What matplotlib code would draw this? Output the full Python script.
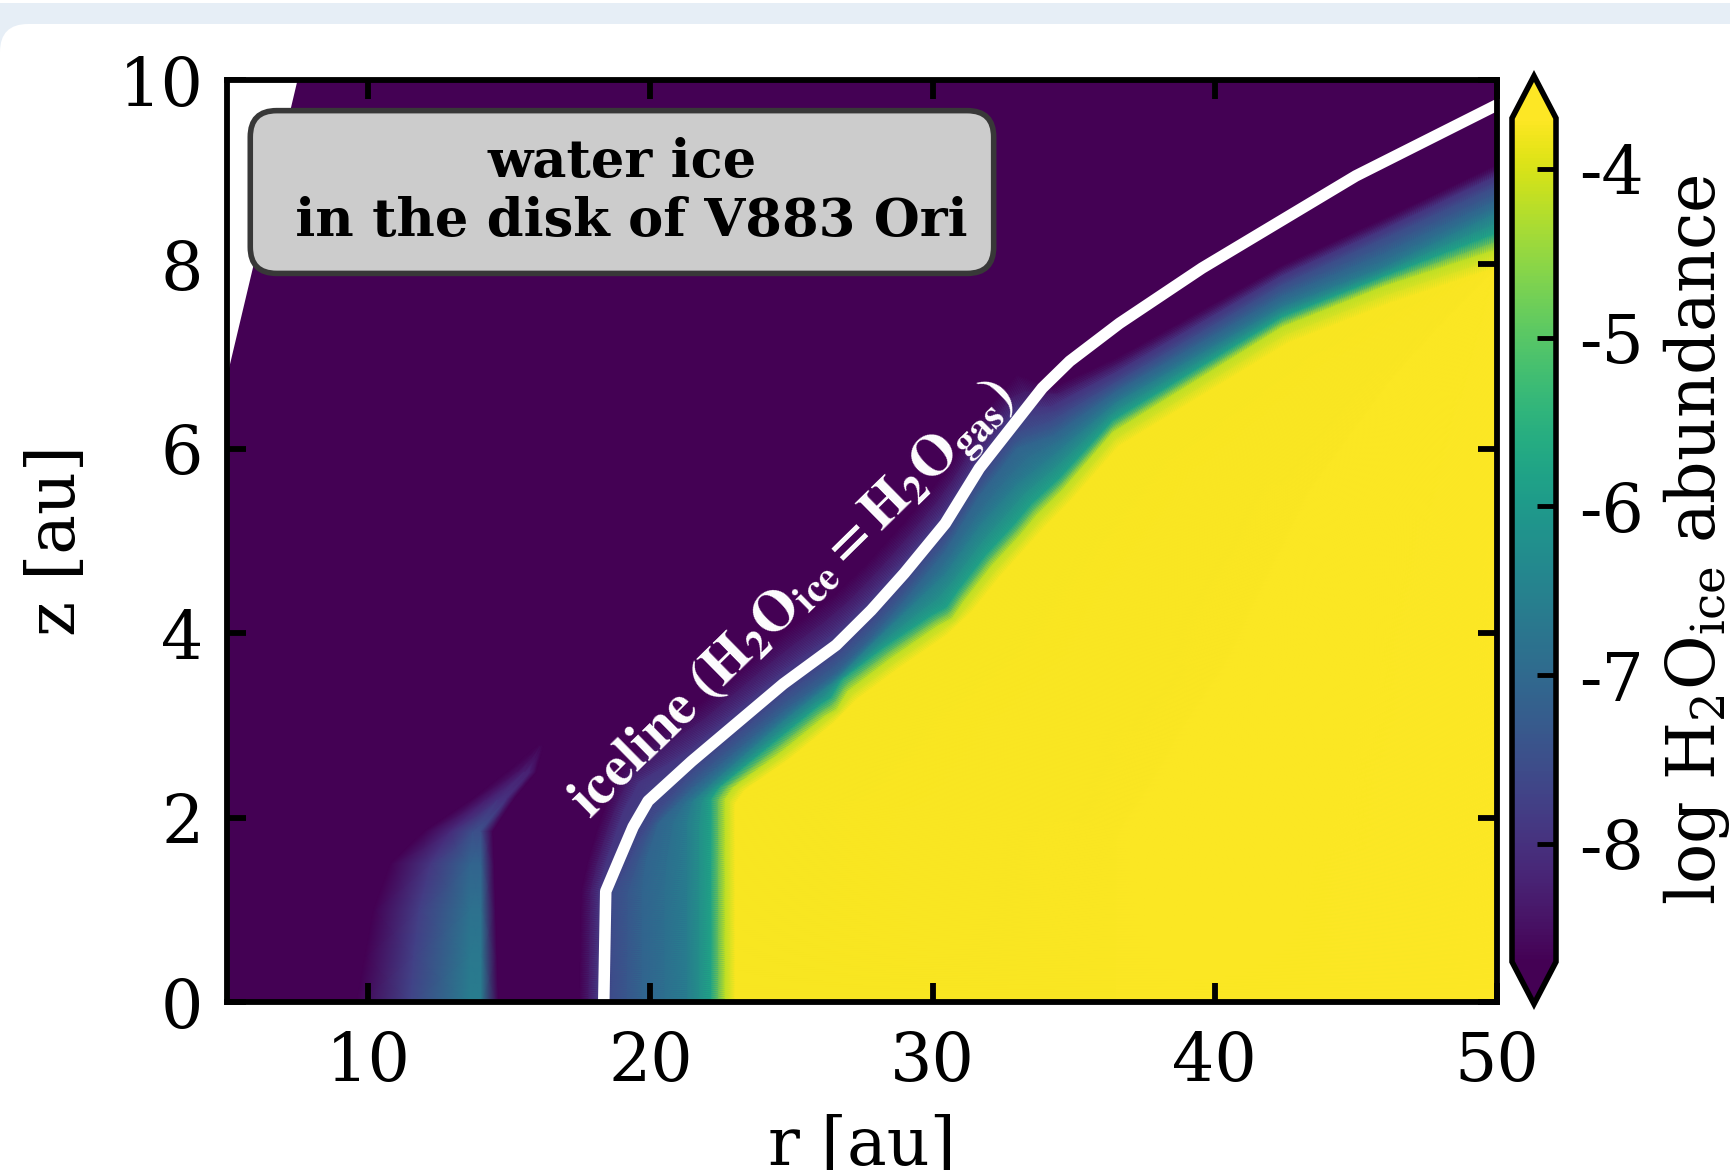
import numpy as np
import matplotlib
matplotlib.use("Agg")
import matplotlib.pyplot as plt
from matplotlib.patches import FancyBboxPatch, Rectangle
from matplotlib.transforms import IdentityTransform
from matplotlib.colors import Normalize

plt.rcParams['font.family'] = ['DejaVu Serif']
plt.rcParams['mathtext.fontset'] = 'dejavuserif'
plt.rcParams['axes.unicode_minus'] = False

# ---------------- data ----------------
vmin, vmax = -8.7, -3.7
cbar_ticks = [-8, -7, -6, -5, -4]
x_ticks = [10, 20, 30, 40, 50]
y_ticks = [0, 2, 4, 6, 8, 10]

# iceline (H2O_ice = H2O_gas)
ice_r = [18.35, 18.42, 18.64, 18.93, 19.39, 19.92, 21.46, 24.71, 26.58, 27.83,
         29.00, 30.45, 31.66, 33.89, 34.86, 36.62, 39.55, 45.00, 50.00]
ice_z = [0.00, 1.20, 1.36, 1.57, 1.90, 2.18, 2.61, 3.45, 3.87, 4.25,
         4.65, 5.19, 5.79, 6.66, 6.95, 7.36, 7.96, 8.96, 9.73]

# iso-abundance contours of log H2O_ice, (r, z)
band_levels = [-8.7, -7.95, -7.55, -7.1, -6.6, -5.8, -4.2, -3.75]
c0_r = [17.50, 17.57, 17.80, 18.12, 18.50, 18.95, 20.10, 21.46, 24.71, 26.58, 27.83, 29.00, 30.45, 31.66, 33.00, 34.20, 36.50, 42.40, 46.00, 50.00]
c0_z = [0.00, 1.20, 1.52, 1.86, 2.20, 2.55, 2.92, 3.16, 4.00, 4.42, 4.80, 5.20, 5.74, 6.34, 6.80, 6.66, 6.98, 7.99, 8.50, 9.08]
ch_r = [18.10, 18.17, 18.38, 18.65, 19.05, 19.60, 21.46, 24.71, 26.58, 27.83, 29.00, 30.45, 31.66, 33.00, 34.20, 36.50, 42.40, 46.00, 50.00]
ch_z = [0.00, 1.20, 1.46, 1.72, 2.07, 2.38, 2.75, 3.59, 4.01, 4.39, 4.79, 5.33, 5.93, 6.45, 6.46, 6.83, 7.88, 8.38, 8.96]
c1_r = [18.62, 18.68, 18.90, 19.20, 19.65, 20.15, 21.46, 24.71, 26.58, 27.83, 29.00, 30.45, 31.66, 33.00, 34.20, 36.50, 42.40, 46.00, 50.00]
c1_z = [0.00, 1.20, 1.30, 1.48, 1.78, 2.03, 2.48, 3.32, 3.74, 4.12, 4.52, 5.06, 5.66, 6.18, 6.30, 6.72, 7.78, 8.28, 8.85]
c2_r = [19.70, 19.70, 19.85, 20.30, 21.46, 24.71, 26.58, 27.83, 29.00, 30.45, 31.66, 33.00, 34.30, 36.50, 42.40, 46.00, 50.00]
c2_z = [0.00, 1.20, 1.55, 1.95, 2.31, 3.15, 3.57, 3.95, 4.35, 4.89, 5.49, 6.01, 6.15, 6.62, 7.66, 8.12, 8.70]
c3_r = [21.30, 21.30, 21.50, 22.20, 24.71, 26.58, 27.83, 29.00, 30.45, 31.66, 33.00, 34.40, 36.50, 42.40, 46.00, 50.00]
c3_z = [0.00, 1.95, 2.18, 2.38, 3.05, 3.50, 3.88, 4.22, 4.64, 5.16, 5.62, 5.96, 6.50, 7.54, 7.97, 8.56]
c4_r = [22.15, 22.15, 22.45, 24.40, 26.00, 26.40, 26.80, 28.30, 30.00, 30.50, 30.90, 31.90, 32.90, 33.50, 34.50, 36.40, 42.40, 46.00, 50.00]
c4_z = [0.00, 2.20, 2.33, 2.82, 3.22, 3.30, 3.50, 3.85, 4.20, 4.28, 4.46, 4.85, 5.18, 5.40, 5.68, 6.31, 7.43, 7.87, 8.34]
c5_r = [22.65, 22.65, 22.95, 24.60, 26.20, 26.60, 27.00, 28.50, 30.20, 30.70, 31.10, 32.10, 33.10, 33.70, 34.60, 36.40, 42.40, 46.00, 50.00]
c5_z = [0.00, 2.20, 2.33, 2.70, 3.10, 3.17, 3.37, 3.72, 4.08, 4.16, 4.34, 4.73, 5.06, 5.28, 5.55, 6.18, 7.32, 7.76, 8.16]
c6_r = [23.00, 23.00, 23.35, 24.90, 26.50, 27.30, 28.80, 30.50, 31.40, 32.40, 33.40, 34.00, 34.90, 36.60, 42.60, 46.20, 50.00]
c6_z = [0.00, 2.15, 2.30, 2.63, 3.03, 3.28, 3.62, 3.98, 4.24, 4.62, 4.96, 5.16, 5.44, 6.03, 7.15, 7.58, 7.97]

# faint inner ice patch near r ~ 10-16 au (rows in z, nodes across r)
patch_z = [0.00, 0.50, 1.00, 1.50, 1.85, 2.20, 2.50, 2.78]
patch_ra = [9.60, 9.90, 10.20, 10.80, 12.00, 13.70, 14.95, 16.00]
patch_rb = [11.50, 11.60, 11.80, 12.20, 12.90, 14.20, 15.30, 16.05]
patch_rc = [13.60, 13.60, 13.60, 13.60, 13.70, 14.60, 15.55, 16.10]
patch_rd = [14.00, 14.00, 14.00, 14.00, 14.00, 14.90, 15.75, 16.15]
patch_re = [14.60, 14.55, 14.50, 14.45, 14.40, 15.15, 15.95, 16.20]
patch_vb = [-7.70, -7.75, -7.80, -7.90, -8.10, -8.30, -8.50, -8.70]
patch_vc = [-6.60, -6.70, -6.85, -7.10, -7.50, -8.00, -8.25, -8.70]

# region outside the model grid (white wedge, upper left)
wedge_r = [5.0, 7.5, 5.0]
wedge_z = [6.78, 10.0, 10.0]

# ---------------- figure ----------------
W, H = 1730, 1170
fig = plt.figure(figsize=(W / 100, H / 100), dpi=100, facecolor='white')

# page background strip + rounded white card
fig.patches.append(Rectangle((0, H - 80), W, 77, transform=IdentityTransform(),
                             facecolor='#e6eef6', edgecolor='none', zorder=-10))
fig.patches.append(FancyBboxPatch((0, -60), W + 80, H - 24 + 60,
                                  boxstyle='round,pad=0,rounding_size=28',
                                  transform=IdentityTransform(),
                                  facecolor='white', edgecolor='none', zorder=-9))

ax = fig.add_axes([227 / W, (H - 1002) / H, 1270 / W, 922 / H])
cax = fig.add_axes([1512 / W, (H - 1004) / H, 44 / W, 928 / H])

cmap = plt.get_cmap('viridis')
norm = Normalize(vmin=vmin, vmax=vmax)
ax.set_xlim(5, 50)
ax.set_ylim(0, 10)
ax.set_facecolor(cmap(0.0))

bb = ax.get_window_extent()
sx, sz = bb.width / 45.0, bb.height / 10.0


def resample(rr, zz, n):
    rr = np.asarray(rr, float)
    zz = np.asarray(zz, float)
    seg = np.hypot(np.diff(rr) * sx, np.diff(zz) * sz)
    s = np.concatenate([[0.0], np.cumsum(seg)])
    s /= s[-1]
    f = np.linspace(0.0, 1.0, n)
    return np.interp(f, s, rr), np.interp(f, s, zz)


n = 600
cols_r, cols_z = [], []
for cr, cz in [(c0_r, c0_z), (ch_r, ch_z), (c1_r, c1_z), (c2_r, c2_z),
               (c3_r, c3_z), (c4_r, c4_z), (c5_r, c5_z), (c6_r, c6_z),
               ([50.0, 50.0], [0.0, c6_z[-1]])]:
    rr, zz = resample(cr, cz, n)
    cols_r.append(rr)
    cols_z.append(zz)
R = np.column_stack(cols_r)
Z = np.column_stack(cols_z)
C = np.tile(np.array(band_levels + [vmax]), (n, 1))
mesh = ax.pcolormesh(R, Z, C, shading='gouraud', cmap=cmap, norm=norm, zorder=1)

Rp = np.column_stack([patch_ra, patch_rb, patch_rc, patch_rd, patch_re])
Zp = np.column_stack([patch_z] * 5)
Cp = np.column_stack([[vmin] * len(patch_z), patch_vb, patch_vc, patch_vc,
                      [vmin] * len(patch_z)])
ax.pcolormesh(Rp, Zp, Cp, shading='gouraud', cmap=cmap, norm=norm, zorder=1)

ax.fill(wedge_r, wedge_z, color='white', zorder=2, lw=0)

ax.plot(ice_r, ice_z, color='white', lw=8.3, zorder=3, solid_capstyle='butt')
ax.text(25.1, 4.35, r'$\mathbf{iceline\ (H_2O_{ice} = H_2O_{gas})}$',
        color='white', fontsize=41, rotation=44.5, rotation_mode='anchor',
        ha='center', va='center', math_fontfamily='stix', zorder=4)

ax.text(0.311, 0.8785, 'water ice\n in the disk of V883 Ori', transform=ax.transAxes,
        ha='center', va='center', multialignment='center', fontsize=38,
        fontweight='bold', zorder=6,
        bbox=dict(boxstyle='round,pad=0.5', facecolor='#cccccc',
                  edgecolor='#383838', linewidth=4))

ax.set_xticks(x_ticks)
ax.set_yticks(y_ticks)
ax.tick_params(direction='in', length=14, width=4.2, top=True, right=True,
               labelsize=48)
ax.tick_params(axis='x', pad=20)
ax.tick_params(axis='y', pad=17)
for sp in ax.spines.values():
    sp.set_linewidth(4.2)
    sp.set_zorder(10)
ax.set_xlabel('r [au]', fontsize=48)
ax.set_ylabel('z [au]', fontsize=48)
ax.xaxis.set_label_coords(0.5, -0.1215)
ax.yaxis.set_label_coords(-0.109, 0.5)

cbar = fig.colorbar(mesh, cax=cax, extend='both', ticks=cbar_ticks)
cbar.outline.set_linewidth(4)
cax.tick_params(direction='in', length=14, width=3.5, labelsize=48, pad=17,
                right=True, left=False)
cbar.set_label(r'log H$_2$O$_{\rm ice}$ abundance', fontsize=48, labelpad=12)

fig.savefig('out.png', dpi=100, facecolor='white')
